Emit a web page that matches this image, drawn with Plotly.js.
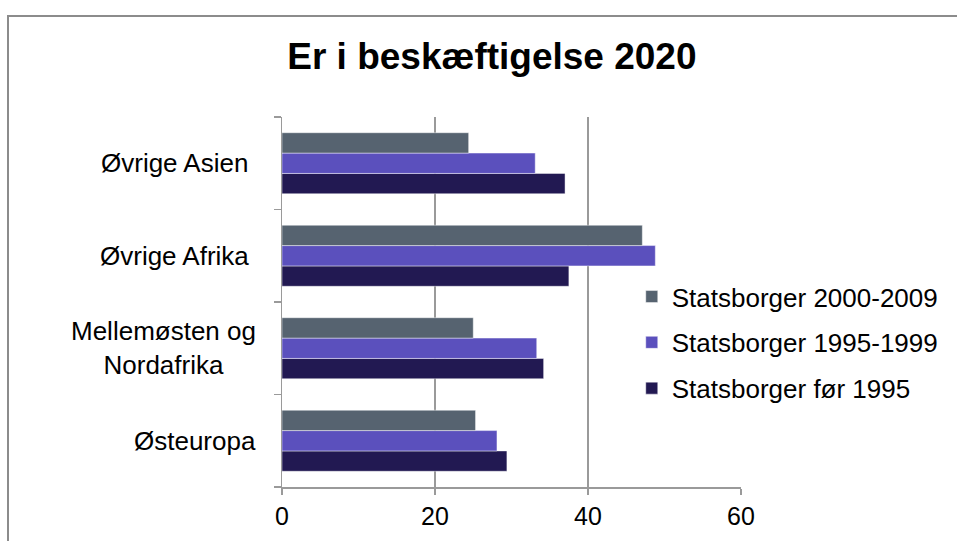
<!DOCTYPE html>
<html>
<head>
<meta charset="utf-8">
<script src="https://cdn.plot.ly/plotly-3.0.1.min.js"></script>
<style>
  html, body { margin: 0; padding: 0; background: #fff; }
  #wrap { position: relative; width: 957px; height: 541px; overflow: hidden; }
  #chart { position: absolute; left: 0; top: 0; width: 957px; height: 541px; }
  #frame { position: absolute; left: 7px; top: 15px; width: 2000px; height: 2000px;
           border-left: 2px solid #8c8c8c; border-top: 2px solid #8c8c8c; pointer-events: none; }
</style>
</head>
<body>
<div id="wrap">
  <div id="chart"></div>
  <div id="frame"></div>
</div>
<script>
// Categories, bottom to top as drawn
const categories = ["Østeuropa", "Mellemøsten og<br>Nordafrika", "Øvrige Afrika\u00a0", "Øvrige Asien\u00a0"];

// Series values (percent in employment 2020)
const seriesNames = ["Statsborger før 1995", "Statsborger 1995-1999", "Statsborger 2000-2009"];
const valsFoer1995 = [29.4, 34.2, 37.5, 37.0];
const vals1995_1999 = [28.1, 33.3, 48.8, 33.1];
const vals2000_2009 = [25.3, 25.0, 47.1, 24.4];
const seriesColors = ["#221952", "#5B50BD", "#566370"];

const xTickVals = [0, 20, 40, 60];
const xTickText = ["0", "20", "40", "60"];

const FONT = "Liberation Sans, Arial, sans-serif";
const seriesValues = [valsFoer1995, vals1995_1999, vals2000_2009];

const traces = seriesValues.map((vals, i) => ({
  type: "bar",
  orientation: "h",
  name: seriesNames[i],
  y: categories,
  x: vals,
  legendgroup: "g" + i,
  legendrank: 1000 - i,
  marker: { color: seriesColors[i], line: { color: "rgba(255,255,255,0.45)", width: 1 } },
  hoverinfo: "skip"
}));

const annotations = categories.map(c => ({
  xref: "x", yref: "y", x: 0, y: c,
  xanchor: "right", yanchor: "middle", xshift: -24,
  text: c, showarrow: false, align: "center",
  font: { family: FONT, size: 26, color: "#000" }
}));

const layout = {
  width: 957, height: 541,
  margin: { l: 282, r: 216, t: 117, b: 54, pad: 0 },
  paper_bgcolor: "#ffffff", plot_bgcolor: "#ffffff",
  font: { family: FONT, color: "#000" },
  title: {
    text: "<b>Er i beskæftigelse 2020</b>",
    font: { family: FONT, size: 37, color: "#000" },
    x: 0.514, xanchor: "center", xref: "container",
    y: 0.897, yanchor: "middle", yref: "container"
  },
  barmode: "group",
  bargap: 0.34, bargroupgap: 0,
  showlegend: true,
  legend: {
    x: 0.762, xanchor: "left", y: 0.578, yanchor: "top",
    traceorder: "grouped", tracegroupgap: 9,
    font: { family: FONT, size: 26, color: "#000" },
    bgcolor: "rgba(0,0,0,0)"
  },
  xaxis: {
    range: [0, 60], tickvals: xTickVals, ticktext: xTickText,
    showgrid: true, gridcolor: "#9a9a9a", gridwidth: 1.5,
    zeroline: false, showline: true, linecolor: "#9a9a9a", linewidth: 1.5,
    ticks: "outside", ticklen: 6, tickcolor: "#9a9a9a", tickwidth: 1.5,
    tickfont: { family: FONT, size: 25, color: "#000" },
    fixedrange: true
  },
  yaxis: {
    type: "category", categoryorder: "array", categoryarray: categories,
    showgrid: false, zeroline: false, showline: true, linecolor: "#9a9a9a", linewidth: 1.5,
    ticks: "outside", tickson: "boundaries", ticklen: 7, tickcolor: "#9a9a9a", tickwidth: 1.5,
    showticklabels: false, fixedrange: true
  },
  annotations: annotations
};

Plotly.newPlot("chart", traces, layout, { displayModeBar: false, staticPlot: true });
</script>
</body>
</html>
